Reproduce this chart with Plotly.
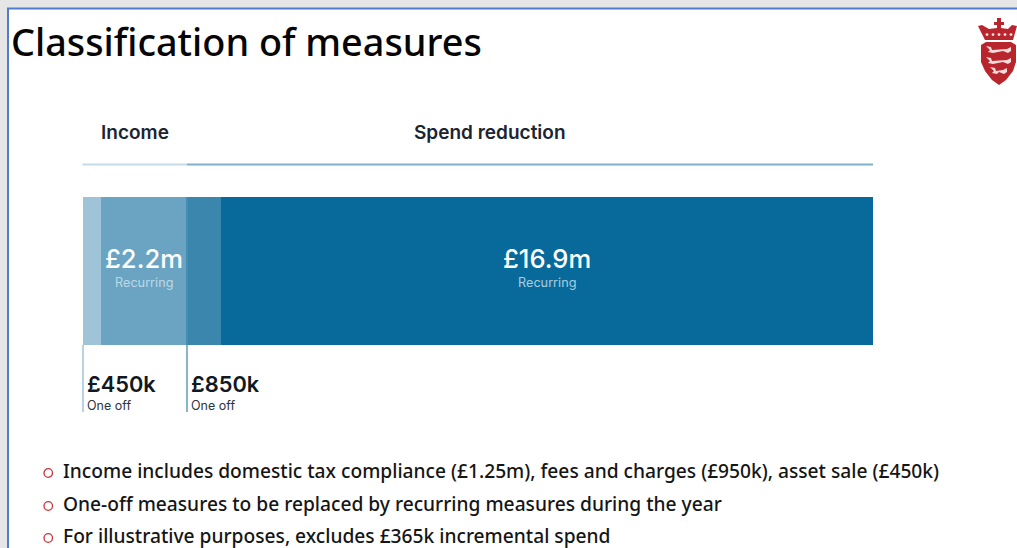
import plotly.graph_objects as go

W, H = 1017, 548
segments = ["Income one off", "Income recurring", "Spend one off", "Spend recurring"]
values_m = [0.46, 2.25, 0.87, 16.9]
colors = ["#9fc4d8", "#6ba4c2", "#3a86ad", "#086a9b"]
title = "Classification of measures"
headers = ["Income", "Spend reduction"]
bullets = [
    "Income includes domestic tax compliance (£1.25m), fees and charges (£950k), asset sale (£450k)",
    "One-off measures to be replaced by recurring measures during the year",
    "For illustrative purposes, excludes £365k incremental spend",
]

px = lambda v: v / W
py = lambda v: 1 - v / H

fig = go.Figure()
for name, v, c in zip(segments, values_m, colors):
    fig.add_trace(go.Bar(y=["Measures"], x=[v], name=name, orientation="h",
                         marker=dict(color=c, line=dict(width=0)), hoverinfo="skip"))

shapes = []
# page frame
shapes.append(dict(type="rect", xref="paper", yref="paper", x0=0, x1=1, y0=py(8), y1=1,
                   fillcolor="#e6e6e6", line_width=0, layer="below"))
shapes.append(dict(type="rect", xref="paper", yref="paper", x0=0, x1=px(7), y0=0, y1=1,
                   fillcolor="#e6e6e6", line_width=0, layer="below"))
shapes.append(dict(type="line", xref="paper", yref="paper", x0=px(7), x1=1, y0=py(8.5), y1=py(8.5),
                   line=dict(color="#4f7ccf", width=2)))
shapes.append(dict(type="line", xref="paper", yref="paper", x0=px(8), x1=px(8), y0=py(8), y1=0,
                   line=dict(color="#4f7ccf", width=2)))
# header rules
shapes.append(dict(type="line", xref="paper", yref="paper", x0=px(82.5), x1=px(187), y0=py(164.5), y1=py(164.5),
                   line=dict(color="#c4dce8", width=2)))
shapes.append(dict(type="line", xref="paper", yref="paper", x0=px(187), x1=px(873), y0=py(164.5), y1=py(164.5),
                   line=dict(color="#7fb0ca", width=2)))
# callout rules
for x, c in ((83, "#9fc4d8"), (187, "#5f9cbd")):
    shapes.append(dict(type="line", xref="paper", yref="paper", x0=px(x), x1=px(x), y0=py(345), y1=py(412),
                       line=dict(color=c, width=1.5)))
shapes.append(dict(type="line", xref="paper", yref="paper", x0=px(187), x1=px(187), y0=py(197), y1=py(345),
                   line=dict(color="#3a86ad", width=1.5)))


def path(points):
    return "M " + " L ".join(f"{px(x):.5f},{py(y):.5f}" for x, y in points) + " Z"


# crest: crown and shield
RED = "#b9252c"
PALE = "#f4dcdc"
shapes.append(dict(type="path", xref="paper", yref="paper", fillcolor=RED, line_width=0, path=path([
    (997, 18), (1001, 18), (1001, 22), (1004, 22), (1004, 25), (1001, 25), (1001, 28), (1008, 29),
    (1012, 25), (1017, 26), (1013, 40), (985, 40), (978, 26), (982, 25), (989, 29), (997, 28),
    (997, 25), (994, 25), (994, 22), (997, 22)])))
for x in (987, 993, 999, 1005, 1011):
    shapes.append(dict(type="circle", xref="paper", yref="paper", x0=px(x - 1.4), x1=px(x + 1.4),
                       y0=py(36), y1=py(33.2), fillcolor="#f7e4e4", line_width=0))
shapes.append(dict(type="path", xref="paper", yref="paper", fillcolor=RED, line_width=0, path=path([
    (981, 45), (986, 42), (1011, 42), (1016, 45), (1016, 62), (1013, 71), (1006, 80), (999, 85),
    (992, 80), (985, 71), (981, 62)])))
for y, a, b in ((50, 986, 1011), (61, 986, 1011), (71, 990, 1007)):
    shapes.append(dict(type="path", xref="paper", yref="paper", fillcolor=PALE, line_width=0, path=path([
        (a, y - 4), (a + 5, y - 3), (a + 6, y), (b - 4, y - 1), (b, y - 3), (b, y + 1), (b - 3, y + 3),
        (b - 8, y + 1), (a + 7, y + 3), (a + 2, y + 2), (a + 4, y)])))
# bullets
for y in (473, 506, 538):
    shapes.append(dict(type="circle", xref="paper", yref="paper", x0=px(44), x1=px(52.5), y0=py(y - 4.3), y1=py(y + 4.3),
                       line=dict(color="#c9353b", width=1.3), fillcolor="rgba(0,0,0,0)"))

ann = []


def text(x, y, s, size, color="#111111", font="Noto Sans", anchor="left", weight=400):
    ann.append(dict(x=px(x), y=py(y), xref="paper", yref="paper", text=s, showarrow=False,
                    xanchor=anchor, yanchor="middle", borderpad=0, align=anchor,
                    font=dict(size=size, color=color, family=font, weight=weight)))


text(10, 42, title, 37.8, "#050505", weight=500)
text(134.5, 132, headers[0], 19, "#1c2430", "Inter", "center", weight=600)
text(489.5, 132, headers[1], 19, "#1c2430", "Inter", "center", weight=600)
text(143.5, 258.5, "£2.2m", 25.6, "#ffffff", "Inter", "center", weight=500)
text(143.5, 282.5, "Recurring", 12.7, "#bcd8e6", "Inter", "center")
text(546.5, 258.5, "£16.9m", 25.6, "#ffffff", "Inter", "center", weight=500)
text(546.5, 282.5, "Recurring", 12.7, "#a9cde0", "Inter", "center")
text(86, 384, "£450k", 21.8, "#111820", "Inter", weight=600)
text(85.5, 405, "One off", 12.5, "#2c3440", "Inter")
text(190, 384, "£850k", 21.8, "#111820", "Inter", weight=600)
text(190, 405, "One off", 12.5, "#2c3440", "Inter")
for y, b in zip((470.5, 503.5, 535.5), bullets):
    text(62, y, b, 19.2, "#151515", "Noto Sans", weight=500)

fig.update_layout(
    width=W, height=H, autosize=False, barmode="stack", bargap=0, showlegend=False,
    margin=dict(l=0, r=0, t=0, b=0), paper_bgcolor="#ffffff", plot_bgcolor="rgba(0,0,0,0)",
    xaxis=dict(domain=[px(82.5), px(873)], range=[0, sum(values_m)], visible=False, fixedrange=True),
    yaxis=dict(domain=[py(345), py(197)], visible=False, fixedrange=True),
    shapes=shapes, annotations=ann,
)
fig.write_html("out.html", config={"displayModeBar": False},
               post_script="document.body.style.margin='0';document.body.style.overflow='hidden';")
